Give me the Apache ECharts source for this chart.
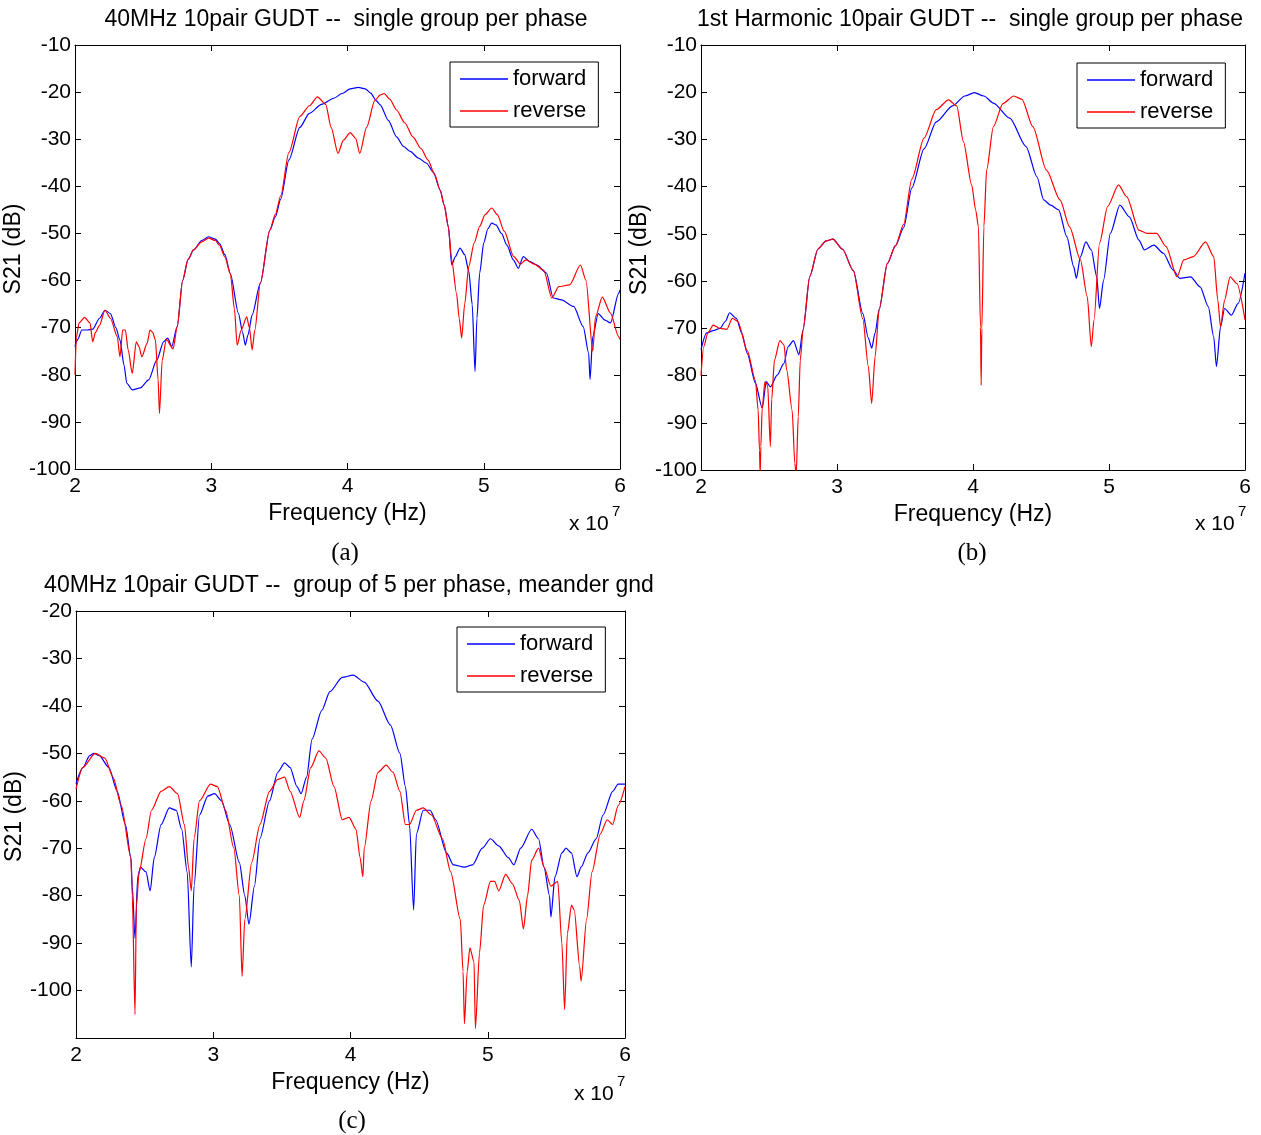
<!DOCTYPE html>
<html>
<head>
<meta charset="utf-8">
<script src="https://cdn.jsdelivr.net/npm/echarts@6/dist/echarts.min.js"></script>
<style>
html,body{margin:0;padding:0;background:#fff;}
#chart{width:1261px;height:1135px;}
</style>
</head>
<body>
<div id="chart"></div>
<script>
// Frequency values are in units of 10^7 Hz, S21 in dB
const xTickValues = [2, 3, 4, 5, 6];
const panelTitles = [
  '40MHz 10pair GUDT --  single group per phase',
  '1st Harmonic 10pair GUDT --  single group per phase',
  '40MHz 10pair GUDT --  group of 5 per phase, meander gnd'
];
const panelLetters = ['(a)', '(b)', '(c)'];
const seriesNames = ['forward', 'reverse'];
const yRanges = [[-100, -10], [-100, -10], [-110, -20]];

const aForward = [[2.00,-74],[2.01,-73],[2.02,-72.5],[2.05,-70.5],[2.09,-70.5],[2.13,-70.3],[2.18,-68],[2.22,-66.3],[2.26,-67],[2.30,-70],[2.33,-72.6],[2.36,-78],[2.38,-81.8],[2.42,-83.2],[2.48,-82.8],[2.54,-81.1],[2.60,-76.9],[2.65,-73],[2.68,-72.2],[2.71,-74],[2.75,-69.8],[2.79,-60],[2.83,-55.5],[2.87,-53.5],[2.93,-51.5],[2.98,-50.7],[3.03,-51.2],[3.06,-52.1],[3.10,-54.5],[3.14,-58.5],[3.20,-67],[3.23,-71],[3.25,-73.7],[3.27,-71.5],[3.30,-67.3],[3.36,-60.6],[3.43,-49.3],[3.47,-46.5],[3.51,-42.7],[3.57,-34.4],[3.65,-27.5],[3.72,-24.5],[3.81,-22.6],[3.90,-21.3],[3.96,-20.3],[4.02,-19.3],[4.08,-19],[4.13,-19.3],[4.17,-20.2],[4.21,-21.8],[4.24,-22.7],[4.30,-26],[4.36,-29.5],[4.41,-31.5],[4.46,-32.6],[4.52,-34],[4.58,-35.1],[4.63,-37],[4.68,-40.8],[4.71,-44],[4.74,-48.6],[4.765,-56.7],[4.79,-55],[4.826,-53.1],[4.86,-54.5],[4.89,-58],[4.915,-65],[4.936,-79.3],[4.95,-68],[4.97,-58.4],[5.00,-52],[5.03,-49],[5.058,-47.8],[5.09,-48.2],[5.13,-50],[5.17,-52.5],[5.217,-55.6],[5.254,-57.4],[5.29,-54.9],[5.34,-56],[5.39,-56.7],[5.46,-58.4],[5.51,-63.7],[5.57,-64.1],[5.66,-65.5],[5.73,-69.8],[5.77,-75.4],[5.78,-81],[5.80,-71.9],[5.84,-67],[5.89,-68.4],[5.93,-69],[5.99,-62.7],[6.00,-62]];
const aReverse = [[2.00,-80],[2.01,-72],[2.03,-69],[2.07,-67.8],[2.11,-69],[2.13,-73],[2.15,-71],[2.18,-69.5],[2.22,-66.3],[2.26,-68],[2.31,-71.9],[2.33,-76.2],[2.35,-70.5],[2.37,-70.5],[2.39,-74.7],[2.42,-79.7],[2.45,-73],[2.47,-74],[2.49,-76.2],[2.53,-73.3],[2.55,-70.5],[2.57,-71],[2.59,-72.6],[2.61,-81.1],[2.62,-88.2],[2.64,-76.9],[2.67,-72.5],[2.72,-74.5],[2.75,-69.8],[2.79,-60],[2.83,-55.5],[2.87,-53.5],[2.93,-51.8],[2.98,-51],[3.03,-51.5],[3.06,-52.5],[3.10,-55],[3.14,-58.5],[3.17,-66],[3.19,-73.7],[3.22,-70.5],[3.26,-67.7],[3.28,-70],[3.30,-74.7],[3.32,-70.5],[3.36,-60.6],[3.43,-49.3],[3.47,-46],[3.51,-42],[3.57,-32.8],[3.65,-25.2],[3.72,-22.9],[3.78,-21],[3.84,-22.6],[3.88,-27.5],[3.93,-33],[3.97,-30.2],[4.02,-28.6],[4.06,-29.8],[4.09,-33],[4.14,-27.5],[4.20,-21.8],[4.24,-20.6],[4.27,-20.3],[4.31,-21.5],[4.36,-23.8],[4.42,-26.5],[4.48,-29.5],[4.54,-32],[4.59,-34.4],[4.64,-37.5],[4.68,-40.8],[4.71,-44],[4.74,-48.6],[4.765,-55.6],[4.80,-62.7],[4.82,-68],[4.838,-72.2],[4.86,-65],[4.89,-57],[4.93,-52],[4.97,-48.5],[5.01,-46],[5.058,-44.6],[5.10,-46],[5.15,-49.5],[5.22,-54.9],[5.27,-56.5],[5.31,-55.6],[5.37,-56.5],[5.44,-57.8],[5.50,-63.7],[5.55,-61.3],[5.63,-60.9],[5.71,-56.7],[5.75,-59.9],[5.80,-75],[5.82,-67.7],[5.87,-63.5],[5.93,-66.9],[5.99,-71.9],[6.00,-72.5]];

const bForward = [[2.00,-74.5],[2.04,-71],[2.09,-70.5],[2.14,-70],[2.18,-68.5],[2.21,-66.7],[2.26,-67.9],[2.30,-71],[2.34,-75.3],[2.40,-81.6],[2.45,-86.9],[2.48,-81.3],[2.51,-82.4],[2.56,-79.9],[2.61,-77.4],[2.64,-73.9],[2.68,-72.6],[2.72,-75.6],[2.75,-70.4],[2.80,-59],[2.86,-53.2],[2.92,-51.5],[2.97,-51.1],[3.04,-53.2],[3.12,-57.8],[3.19,-66.9],[3.23,-72],[3.255,-74.2],[3.28,-71],[3.31,-66],[3.37,-56.3],[3.43,-52.5],[3.49,-48.7],[3.55,-40.3],[3.64,-32],[3.73,-26.3],[3.85,-22.9],[3.94,-20.8],[4.01,-20.1],[4.08,-20.8],[4.15,-22.3],[4.27,-25.5],[4.39,-31.5],[4.47,-37.9],[4.52,-42.8],[4.57,-43.9],[4.63,-44.9],[4.69,-50.6],[4.74,-56.9],[4.76,-59.4],[4.79,-54.8],[4.83,-51.7],[4.87,-53.4],[4.91,-59.1],[4.93,-65.8],[4.96,-59.8],[5.01,-49.9],[5.08,-43.9],[5.15,-46.4],[5.22,-51.3],[5.26,-53.4],[5.33,-52.4],[5.40,-54.1],[5.47,-57.6],[5.52,-59.4],[5.60,-59.1],[5.67,-61.2],[5.73,-65.4],[5.77,-71.8],[5.79,-78.1],[5.82,-69.7],[5.85,-65.8],[5.90,-67.2],[5.95,-64.7],[6.00,-58.3]];
const bReverse = [[2.00,-80],[2.02,-73.9],[2.05,-71],[2.09,-69.3],[2.14,-70],[2.19,-70.2],[2.23,-67.9],[2.27,-68.5],[2.34,-74.7],[2.40,-81],[2.42,-87.3],[2.43,-95.8],[2.435,-101],[2.44,-95],[2.45,-87],[2.47,-81.3],[2.49,-82],[2.51,-95],[2.52,-85],[2.54,-76.7],[2.58,-72.6],[2.61,-73.5],[2.63,-78.8],[2.67,-87.3],[2.69,-98.6],[2.70,-101],[2.715,-88.7],[2.73,-76.7],[2.75,-70.4],[2.80,-59],[2.86,-53.2],[2.92,-51.5],[2.97,-51.1],[3.04,-53.2],[3.12,-57.8],[3.19,-68],[3.23,-78],[3.255,-85.9],[3.28,-76],[3.31,-66],[3.37,-56.3],[3.43,-52.5],[3.49,-48],[3.55,-38.4],[3.64,-29.7],[3.73,-23.7],[3.82,-21.6],[3.88,-22.9],[3.93,-30.5],[3.99,-39.6],[4.02,-45],[4.04,-48.5],[4.055,-69.7],[4.06,-82],[4.065,-70],[4.08,-48.5],[4.10,-36.5],[4.15,-27.3],[4.22,-22.4],[4.30,-20.8],[4.36,-21.5],[4.44,-27.3],[4.54,-36.5],[4.64,-42.8],[4.71,-48.5],[4.79,-55.5],[4.84,-63.3],[4.87,-73.9],[4.89,-68.2],[4.93,-52],[4.99,-44.2],[5.07,-39.6],[5.13,-42.1],[5.22,-49.2],[5.28,-49.9],[5.35,-49.9],[5.42,-52.7],[5.50,-59.1],[5.55,-55.5],[5.62,-54.8],[5.71,-51.7],[5.77,-54.8],[5.80,-64],[5.82,-69.7],[5.85,-64],[5.89,-59.1],[5.94,-60.5],[6.00,-68.2]];

const cForward = [[2.00,-56.4],[2.05,-53],[2.10,-50.5],[2.13,-50],[2.17,-50.5],[2.24,-53],[2.30,-58],[2.36,-65],[2.40,-72],[2.41,-78],[2.43,-89],[2.45,-76],[2.47,-74],[2.51,-75],[2.54,-79],[2.57,-72],[2.62,-65],[2.68,-61.5],[2.73,-62],[2.77,-66],[2.81,-75],[2.84,-95],[2.86,-78],[2.90,-63],[2.96,-59],[3.01,-58.5],[3.06,-60],[3.12,-65],[3.19,-73],[3.23,-80],[3.26,-86],[3.30,-78],[3.34,-68],[3.41,-60],[3.47,-54],[3.52,-52],[3.56,-53],[3.61,-57],[3.64,-58.5],[3.68,-55],[3.72,-47],[3.79,-41],[3.85,-37],[3.94,-34],[4.02,-33.5],[4.10,-35],[4.20,-39],[4.29,-44],[4.36,-50],[4.40,-57],[4.43,-65],[4.46,-83],[4.48,-67],[4.53,-62],[4.58,-62],[4.62,-64],[4.70,-71],[4.75,-73.5],[4.83,-74],[4.89,-73.5],[4.96,-70],[5.02,-68],[5.08,-69.5],[5.15,-72],[5.19,-73.5],[5.24,-70],[5.32,-66],[5.37,-68],[5.41,-74],[5.45,-80],[5.46,-84.5],[5.49,-76],[5.54,-71],[5.57,-70],[5.61,-71],[5.65,-76],[5.68,-74],[5.73,-71],[5.79,-68],[5.84,-63],[5.91,-58],[5.95,-56.5],[6.00,-56.5]];
const cReverse = [[2.00,-57.5],[2.05,-53],[2.14,-50],[2.21,-51],[2.27,-55],[2.33,-61],[2.40,-72],[2.41,-80],[2.43,-105],[2.44,-82],[2.46,-75],[2.51,-68],[2.55,-62],[2.62,-58],[2.68,-57],[2.74,-58.5],[2.79,-65],[2.82,-74],[2.84,-79],[2.86,-68],[2.90,-60],[2.98,-56.5],[3.03,-57],[3.09,-62],[3.15,-70],[3.19,-80],[3.21,-97],[3.23,-85],[3.28,-73],[3.34,-65],[3.41,-58],[3.47,-55.5],[3.52,-55],[3.56,-58],[3.63,-63.5],[3.66,-60],[3.71,-53],[3.77,-49.5],[3.82,-51],[3.88,-57],[3.94,-64],[3.99,-63.5],[4.04,-66],[4.07,-72],[4.09,-76],[4.10,-70],[4.15,-60],[4.20,-54],[4.26,-52.5],[4.31,-54],[4.36,-58],[4.40,-65],[4.43,-65],[4.48,-62],[4.53,-61.5],[4.59,-63],[4.67,-68],[4.73,-75],[4.80,-85],[4.82,-96],[4.83,-107],[4.85,-96],[4.87,-91],[4.90,-94],[4.91,-108],[4.94,-92],[4.97,-82],[5.02,-77],[5.05,-77],[5.08,-79],[5.13,-75.5],[5.18,-77.5],[5.23,-81],[5.26,-87],[5.29,-80],[5.32,-72.5],[5.37,-70],[5.41,-74],[5.46,-78],[5.51,-77],[5.54,-90],[5.56,-104],[5.58,-88],[5.61,-82],[5.63,-83],[5.67,-95],[5.68,-98],[5.72,-85],[5.76,-75],[5.82,-67],[5.87,-64],[5.91,-65],[5.95,-61],[6.00,-57]];

const panelData = [[aForward, aReverse], [bForward, bReverse], [cForward, cReverse]];

// ---- layout / style ----
const FONT = "'Liberation Sans', Arial, sans-serif";
const grids = [
  {left: 75, top: 45, width: 545, height: 424},
  {left: 701, top: 45, width: 544, height: 425},
  {left: 76, top: 611, width: 549, height: 427}
];
const colors = ['#0000ff', '#ff0000'];
const titlePos = [[346, 20], [970, 20], [349, 586]];
const letterPos = [[345, 553], [972, 553], [352, 1121]];
const expPos = [[569, 524], [1195, 524], [574, 1094]];
const legendPos = [[450, 62], [1077, 63], [457, 627]];

const xAxes = [], yAxes = [], series = [], graphics = [], legends = [];
const axisLineStyle = {color: '#000', width: 1};

grids.forEach((g, i) => {
  const [ymin, ymax] = yRanges[i];
  xAxes.push({
    type: 'value', gridIndex: i, position: 'bottom', min: xTickValues[0], max: xTickValues[xTickValues.length - 1], interval: 1,
    axisLine: {show: true, onZero: false, lineStyle: axisLineStyle},
    axisTick: {show: true, inside: true, length: 6, lineStyle: axisLineStyle},
    axisLabel: {show: true, color: '#000', fontSize: 21, fontFamily: FONT, margin: 7},
    splitLine: {show: false},
    name: 'Frequency (Hz)', nameLocation: 'middle', nameGap: 33,
    nameTextStyle: {color: '#000', fontSize: 23, fontFamily: FONT}
  });
  xAxes.push({
    type: 'value', gridIndex: i, position: 'top', min: xTickValues[0], max: xTickValues[xTickValues.length - 1], interval: 1,
    axisLine: {show: true, onZero: false, lineStyle: axisLineStyle},
    axisTick: {show: true, inside: true, length: 6, lineStyle: axisLineStyle},
    axisLabel: {show: false}, splitLine: {show: false}
  });
  yAxes.push({
    type: 'value', gridIndex: i, position: 'left', min: ymin, max: ymax, interval: 10,
    axisLine: {show: true, onZero: false, lineStyle: axisLineStyle},
    axisTick: {show: true, inside: true, length: 6, lineStyle: axisLineStyle},
    axisLabel: {show: true, color: '#000', fontSize: 21, fontFamily: FONT, margin: 4,
      formatter: v => (i === 2 && v === -110) ? '' : String(v)},
    splitLine: {show: false},
    name: 'S21 (dB)', nameLocation: 'middle', nameGap: 36,
    nameTextStyle: {color: '#000', fontSize: 23, fontFamily: FONT, padding: [0, 0, 0, 16]}
  });
  yAxes.push({
    type: 'value', gridIndex: i, position: 'right', min: ymin, max: ymax, interval: 10,
    axisLine: {show: true, onZero: false, lineStyle: axisLineStyle},
    axisTick: {show: true, inside: true, length: 6, lineStyle: axisLineStyle},
    axisLabel: {show: false}, splitLine: {show: false}
  });
  panelData[i].forEach((d, k) => {
    series.push({
      type: 'line', name: seriesNames[k], xAxisIndex: 2 * i, yAxisIndex: 2 * i,
      data: d, symbol: 'none', showSymbol: false, smooth: 0.25, smoothMonotone: 'x',
      lineStyle: {color: colors[k], width: 1.2}, itemStyle: {color: colors[k]},
      animation: false, clip: true
    });
  });
  legends.push({
    data: seriesNames, left: legendPos[i][0], top: legendPos[i][1], orient: 'vertical',
    borderColor: '#000', borderWidth: 1, backgroundColor: '#fff', borderRadius: 0,
    padding: [4, 12, 3, 10], itemGap: 6, itemWidth: 48, itemHeight: 1.4, icon: 'rect',
    textStyle: {color: '#000', fontSize: 22, fontFamily: FONT, lineHeight: 26},
    selectedMode: false
  });
  graphics.push({
    type: 'text', x: titlePos[i][0], y: titlePos[i][1],
    style: {text: panelTitles[i], fill: '#000', font: '23px ' + FONT, textAlign: 'center', textVerticalAlign: 'middle'}
  });
  graphics.push({
    type: 'text', x: letterPos[i][0], y: letterPos[i][1],
    style: {text: panelLetters[i], fill: '#000', font: '25px "Liberation Serif", "Times New Roman", serif', textAlign: 'center', textVerticalAlign: 'middle'}
  });
  graphics.push({
    type: 'text', x: expPos[i][0], y: expPos[i][1],
    style: {text: 'x 10', fill: '#000', font: '21px ' + FONT, textAlign: 'left', textVerticalAlign: 'middle'}
  });
  graphics.push({
    type: 'text', x: expPos[i][0] + 43, y: expPos[i][1] - 12,
    style: {text: '7', fill: '#000', font: '15px ' + FONT, textAlign: 'left', textVerticalAlign: 'middle'}
  });
});

const chart = echarts.init(document.getElementById('chart'), null, {renderer: 'canvas'});
chart.setOption({
  backgroundColor: '#fff',
  animation: false,
  grid: grids.map(g => Object.assign({containLabel: false}, g)),
  xAxis: xAxes,
  yAxis: yAxes,
  legend: legends,
  series: series,
  graphic: graphics
});
</script>
</body>
</html>
